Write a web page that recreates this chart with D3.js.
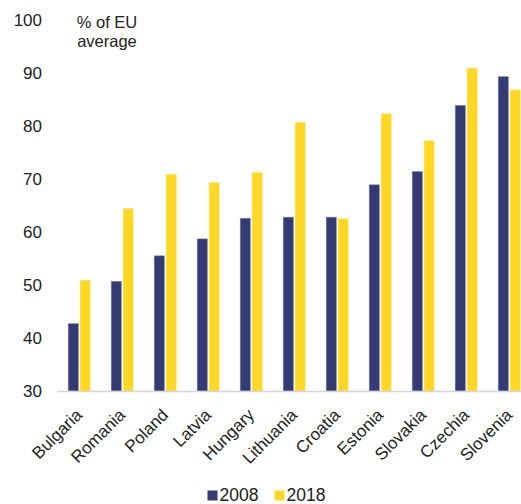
<!DOCTYPE html>
<html>
<head>
<meta charset="utf-8">
<script src="https://cdn.jsdelivr.net/npm/d3@7"></script>
<style>
  html, body { margin: 0; padding: 0; background: #fff; }
  svg { display: block; }
  text { font-family: "Liberation Sans", Arial, sans-serif; fill: #222; }
</style>
</head>
<body>
<div id="chart"></div>
<script>
const categories = ["Bulgaria","Romania","Poland","Latvia","Hungary","Lithuania","Croatia","Estonia","Slovakia","Czechia","Slovenia"];
const values2008 = [42.7, 50.7, 55.5, 58.7, 62.6, 62.8, 62.8, 68.9, 71.4, 83.9, 89.3];
const values2018 = [50.9, 64.4, 70.9, 69.3, 71.2, 80.7, 62.5, 82.3, 77.2, 90.9, 86.8];
const seriesNames = ["2008", "2018"];
const yTicks = [30, 40, 50, 60, 70, 80, 90, 100];
const unitLabel = ["% of EU", "average"];

const colors = { "2008": "#333B72", "2018": "#FFD724" };

const W = 521, H = 504;
const svg = d3.select("#chart").append("svg").attr("width", W).attr("height", H);

const x = d3.scaleBand().domain(categories).range([57.7, 530.7]).paddingInner(0).paddingOuter(0);
const x1 = d3.scaleBand().domain(seriesNames).range([x.bandwidth()/2 - 11, x.bandwidth()/2 + 11]).paddingInner(0.15);
const y = d3.scaleLinear().domain([30, 100]).range([391, 20]);

// y tick labels
svg.append("g").selectAll("text").data(yTicks).join("text")
  .attr("x", 42).attr("y", d => y(d)).attr("dy", "0.36em")
  .attr("text-anchor", "end").style("font-size", "17px")
  .text(d => d);

// unit label
svg.append("text").attr("x", 107).attr("y", 28).attr("text-anchor", "middle")
  .style("font-size", "16.5px")
  .selectAll("tspan").data(unitLabel).join("tspan")
  .attr("x", 107).attr("dy", (d, i) => i === 0 ? 0 : "1.18em").text(d => d);

// bars
const data = categories.map((c, i) => ({ c, vals: [
  { s: "2008", v: values2008[i] }, { s: "2018", v: values2018[i] } ] }));
const groups = svg.append("g").selectAll("g").data(data).join("g")
  .attr("transform", d => `translate(${x(d.c)},0)`);
groups.selectAll("rect").data(d => d.vals).join("rect")
  .attr("x", d => x1(d.s)).attr("width", x1.bandwidth())
  .attr("y", d => y(d.v)).attr("height", d => y(30) - y(d.v))
  .attr("fill", d => colors[d.s])
  .attr("stroke", d => d.s === "2008" ? "#8088b0" : "#ffe680").attr("stroke-width", 0.6);

// x axis baseline
svg.append("line").attr("x1", 57).attr("x2", W).attr("y1", 391.5).attr("y2", 391.5)
  .attr("stroke", "#d4d4dc").attr("stroke-width", 1.5);

// x labels
svg.append("g").selectAll("text").data(categories).join("text")
  .attr("transform", d => `translate(${x(d) + x.bandwidth()/2 + 4},${416}) rotate(-45)`)
  .attr("text-anchor", "end").style("font-size", "17px")
  .text(d => d);

// legend
const leg = svg.append("g");
const legX = [207.5, 274.5];
seriesNames.forEach((s, i) => {
  leg.append("rect").attr("x", legX[i]).attr("y", 490.5).attr("width", 10).attr("height", 10).attr("fill", colors[s]);
  leg.append("text").attr("x", legX[i] + 12).attr("y", 500.5).style("font-size", "17.5px").text(s);
});
</script>
</body>
</html>
